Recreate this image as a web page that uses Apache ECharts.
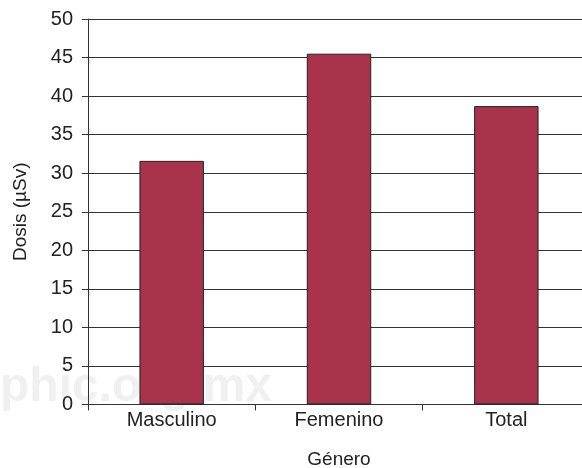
<!DOCTYPE html>
<html>
<head>
<meta charset="utf-8">
<script src="https://cdn.jsdelivr.net/npm/echarts@6/dist/echarts.min.js"></script>
<style>
  html,body{margin:0;padding:0;background:#fff;}
  #main{width:582px;height:468px;}
</style>
</head>
<body>
<div id="main"></div>
<script>
//数据
var categories=['Masculino','Femenino','Total'];
var dosis=[31.6,45.5,38.7];
var yTicks=[0,5,10,15,20,25,30,35,40,45,50];

var chart=echarts.init(document.getElementById('main'));
var txt='#222';
var fontFam='"Liberation Sans", Arial, sans-serif';

chart.setOption({
  animation:false,
  backgroundColor:'#fff',
  textStyle:{fontFamily:fontFam},
  //水印
  graphic:[{
    type:'text',
    left:0,
    top:364,
    z:-10,
    silent:true,
    style:{
      text:'phic.org.mx',
      fontSize:48,
      fontWeight:'bold',
      fontFamily:fontFam,
      fill:'#f0f0f0'
    }
  }],
  grid:{left:88,top:19,bottom:63.5,right:-8,containLabel:false,outerBoundsMode:'none'},
  xAxis:{
    type:'category',
    data:categories,
    name:'Género',
    nameLocation:'middle',
    nameGap:46,
    nameTextStyle:{color:txt,fontSize:19,fontFamily:fontFam},
    axisLine:{lineStyle:{color:'#333',width:1}},
    axisTick:{show:true,length:6,alignWithLabel:false,lineStyle:{color:'#333'}},
    axisLabel:{color:txt,fontSize:20,margin:6,fontFamily:fontFam},
    splitLine:{show:false}
  },
  yAxis:{
    type:'value',
    min:yTicks[0],
    max:yTicks[yTicks.length-1],
    interval:5,
    name:'Dosis (µSv)',
    nameLocation:'middle',
    nameGap:58,
    nameRotate:90,
    nameTextStyle:{color:txt,fontSize:19,fontFamily:fontFam},
    axisLine:{show:true,lineStyle:{color:'#333',width:1}},
    axisTick:{show:true,length:6,lineStyle:{color:'#333'}},
    axisLabel:{color:txt,fontSize:20,margin:15,fontFamily:fontFam},
    splitLine:{show:true,lineStyle:{color:'#333',width:1}}
  },
  series:[{
    type:'bar',
    data:dosis,
    barWidth:'38.5%',
    itemStyle:{color:'#A8334A',borderColor:'#222',borderWidth:1}
  }]
});
</script>
</body>
</html>
